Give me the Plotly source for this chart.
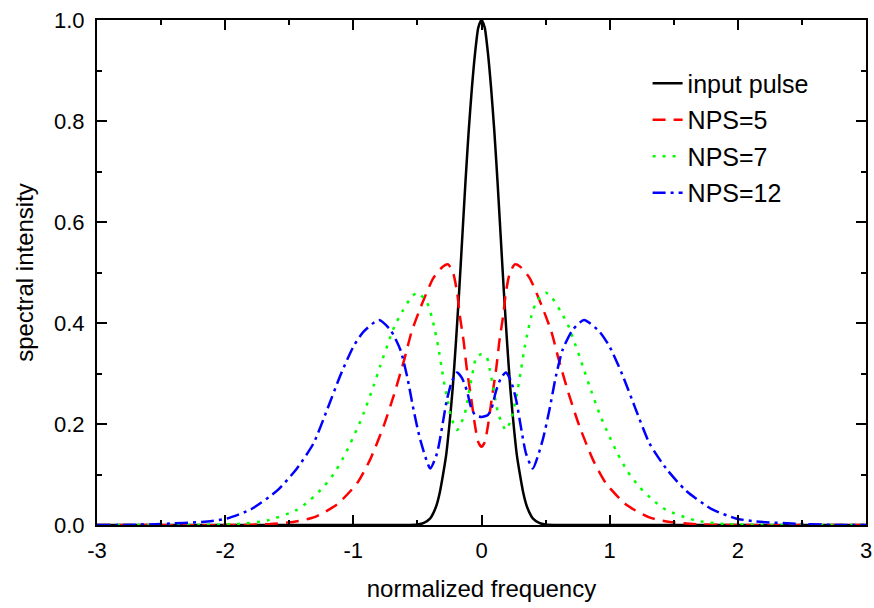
import plotly.graph_objects as go

# ---- data ----
x_tick_vals = [-3, -2, -1, 0, 1, 2, 3]
x_tick_text = ["-3", "-2", "-1", "0", "1", "2", "3"]

x_input = [-3.0, -0.6, -0.5, -0.45, -0.4, -0.375, -0.35, -0.325, -0.3, -0.275, -0.25, -0.225, -0.2,
           -0.175, -0.15, -0.125, -0.1, -0.075, -0.05, -0.025, 0.0,
           0.025, 0.05, 0.075, 0.1, 0.125, 0.15, 0.175, 0.2, 0.225, 0.25, 0.275, 0.3,
           0.325, 0.35, 0.375, 0.4, 0.45, 0.5, 0.6, 3.0]
y_input = [0.0, 0.0, 0.001, 0.004, 0.013, 0.024, 0.04, 0.065, 0.10, 0.14, 0.20, 0.27, 0.36,
           0.46, 0.57, 0.68, 0.78, 0.865, 0.935, 0.985, 1.0,
           0.985, 0.935, 0.865, 0.78, 0.68, 0.57, 0.46, 0.36, 0.27, 0.20, 0.14, 0.10,
           0.065, 0.04, 0.024, 0.013, 0.004, 0.001, 0.0, 0.0]

x_nps5 = [-3.0, -1.9, -1.65, -1.47, -1.31, -1.13, -0.97, -0.87, -0.765, -0.685, -0.6, -0.545,
          -0.467, -0.376, -0.3, -0.26, -0.22, -0.19, -0.17, -0.14, -0.115, -0.08, -0.05, -0.025, 0.0,
          0.025, 0.05, 0.08, 0.115, 0.14, 0.17, 0.19, 0.22, 0.26, 0.3, 0.376, 0.467, 0.545, 0.6,
          0.685, 0.765, 0.87, 0.97, 1.13, 1.31, 1.47, 1.65, 1.9, 3.0]
y_nps5 = [0.0, 0.0, 0.002, 0.006, 0.015, 0.040, 0.083, 0.129, 0.195, 0.256, 0.33, 0.383,
          0.436, 0.489, 0.512, 0.516, 0.498, 0.46, 0.416, 0.365, 0.31, 0.25, 0.196, 0.164, 0.155,
          0.164, 0.196, 0.25, 0.31, 0.365, 0.416, 0.46, 0.498, 0.516, 0.512, 0.489, 0.436, 0.383, 0.33,
          0.256, 0.195, 0.129, 0.083, 0.040, 0.015, 0.006, 0.002, 0.0, 0.0]

x_nps7 = [-3.0, -2.2, -1.9, -1.67, -1.44, -1.335, -1.23, -1.14, -1.06, -0.97, -0.92, -0.84,
          -0.79, -0.71, -0.675, -0.62, -0.545, -0.5, -0.43, -0.39, -0.363, -0.337, -0.31,
          -0.285, -0.26, -0.235, -0.19, -0.13, -0.09, -0.065, -0.04, 0.0,
          0.04, 0.065, 0.09, 0.13, 0.19, 0.235, 0.26, 0.285, 0.31, 0.337, 0.363, 0.39, 0.43,
          0.5, 0.545, 0.62, 0.675, 0.71, 0.79, 0.84, 0.92, 0.97, 1.06, 1.14, 1.23, 1.335,
          1.44, 1.67, 1.9, 2.2, 3.0]
y_nps7 = [0.0, 0.0, 0.002, 0.009, 0.030, 0.050, 0.076, 0.106, 0.142, 0.191, 0.221, 0.277,
          0.315, 0.373, 0.396, 0.422, 0.452, 0.46, 0.443, 0.414, 0.385, 0.352, 0.31,
          0.272, 0.241, 0.212, 0.188, 0.221, 0.274, 0.307, 0.333, 0.338,
          0.333, 0.307, 0.274, 0.221, 0.188, 0.212, 0.241, 0.272, 0.31, 0.352, 0.385, 0.414, 0.443,
          0.46, 0.452, 0.422, 0.396, 0.373, 0.315, 0.277, 0.221, 0.191, 0.142, 0.106, 0.076, 0.050,
          0.030, 0.009, 0.002, 0.0, 0.0]

x_nps12 = [-3.0, -2.8, -2.5, -2.14, -1.985, -1.8, -1.595, -1.44, -1.31, -1.205, -1.1, -1.0,
           -0.92, -0.8, -0.71, -0.633, -0.58, -0.53, -0.477, -0.4, -0.347, -0.27, -0.23, -0.19,
           -0.15, -0.113, -0.08, -0.05, 0.0,
           0.05, 0.08, 0.113, 0.15, 0.19, 0.23, 0.27, 0.347, 0.4, 0.477, 0.53, 0.58, 0.633,
           0.71, 0.8, 0.92, 1.0, 1.1, 1.205, 1.31, 1.44, 1.595, 1.8, 1.985, 2.14, 2.5, 2.8, 3.0]
y_nps12 = [0.0, 0.0, 0.002, 0.007, 0.013, 0.031, 0.068, 0.112, 0.162, 0.228, 0.297, 0.353,
           0.383, 0.406, 0.386, 0.347, 0.294, 0.228, 0.168, 0.112, 0.142, 0.248, 0.285, 0.302,
           0.29, 0.265, 0.232, 0.218, 0.214,
           0.218, 0.232, 0.265, 0.29, 0.302, 0.285, 0.248, 0.142, 0.112, 0.168, 0.228, 0.294, 0.347,
           0.386, 0.406, 0.383, 0.353, 0.297, 0.228, 0.162, 0.112, 0.068, 0.031, 0.013, 0.007, 0.002, 0.0, 0.0]

series = [
    ("input pulse", x_input, y_input, "black", "solid"),
    ("NPS=5", x_nps5, y_nps5, "#ff0000", "13px,8px"),
    ("NPS=7", x_nps7, y_nps7, "#00ff00", "3px,7px"),
    ("NPS=12", x_nps12, y_nps12, "#0000ff", "13px,5px,3px,5px"),
]

FONT = "Liberation Sans, Arial, sans-serif"

fig = go.Figure()
for i, (name, xs, ys, color, dash) in enumerate(series):
    fig.add_trace(go.Scatter(
        x=xs, y=ys, name=name, mode="lines",
        line=dict(color=color, width=2.5, dash=dash, shape="spline", smoothing=0.6),
        legendgroup=f"g{i}",
    ))

axis_common = dict(
    showline=True, linecolor="black", linewidth=2, mirror="allticks",
    ticks="inside", ticklen=10, tickwidth=1.5, tickcolor="black",
    showgrid=False, zeroline=False,
    tickfont=dict(family=FONT, size=22, color="black"),
)

fig.update_xaxes(
    range=[-3, 3], tickmode="array", tickvals=x_tick_vals, ticktext=x_tick_text,
    minor=dict(ticks="inside", ticklen=5, tickwidth=1.5, tickcolor="black", dtick=0.5, tick0=0, showgrid=False),
    title=dict(text="normalized frequency", font=dict(family=FONT, size=24, color="black"), standoff=18),
    ticklabelstandoff=5,
    **axis_common,
)
fig.update_yaxes(
    range=[0, 1.0], dtick=0.2, tick0=0, tickformat=".1f",
    minor=dict(ticks="inside", ticklen=5, tickwidth=1.5, tickcolor="black", dtick=0.1, showgrid=False),
    title=dict(text="spectral intensity", font=dict(family=FONT, size=24, color="black"), standoff=14),
    ticklabelstandoff=6,
    **axis_common,
)

fig.update_layout(
    width=874, height=608,
    margin=dict(l=97, r=8, t=20, b=83, autoexpand=False),
    plot_bgcolor="white", paper_bgcolor="white",
    showlegend=True,
    legend=dict(
        x=0.716, y=0.92, xanchor="left", yanchor="top",
        font=dict(family=FONT, size=25, color="black"),
        bgcolor="rgba(0,0,0,0)", borderwidth=0,
        tracegroupgap=1,
    ),
)

fig.write_html("out.html")
